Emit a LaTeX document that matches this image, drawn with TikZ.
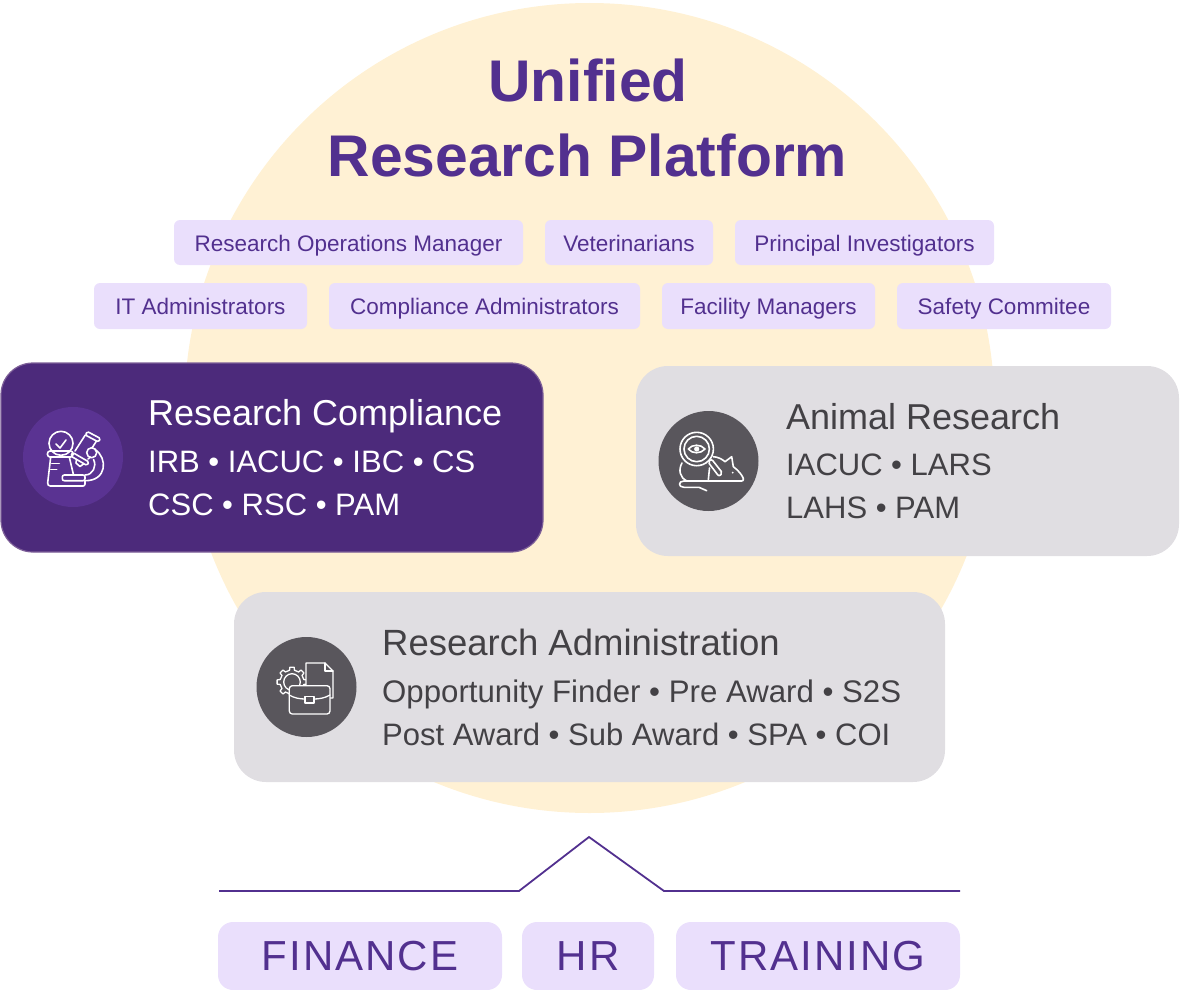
\documentclass[tikz,border=0pt]{standalone}
\usepackage{fontspec}
\setmainfont{Liberation Sans}
\definecolor{sun}{HTML}{FFF1D4}
\definecolor{plum}{HTML}{52308F}
\definecolor{tagbg}{HTML}{EADFFC}
\definecolor{cardpurple}{HTML}{4C2A7B}
\definecolor{cardedge}{HTML}{7D5F98}
\definecolor{iconpurple}{HTML}{5A3392}
\definecolor{cardgrey}{HTML}{E0DEE2}
\definecolor{icongrey}{HTML}{59565C}
\definecolor{inkgrey}{HTML}{434145}
\tikzset{
  x=1pt,y=-1pt,
  tagbox/.style={fill=tagbg,rounded corners=6pt,text=plum,inner sep=0pt,text height=19pt,text depth=2pt,font=\fontsize{22.5}{26}\selectfont},
  basebox/.style={fill=tagbg,rounded corners=15pt,text=plum,inner sep=0pt,text height=28pt,text depth=0pt,font=\addfontfeature{LetterSpace=5}\fontsize{42}{46}\selectfont},
  card/.style={rounded corners=32pt,inner sep=0pt},
  cardtitle/.style={anchor=base west,inner sep=0pt,font=\fontsize{36}{40}\selectfont},
  cardline/.style={anchor=base west,inner sep=0pt,font=\fontsize{31}{36}\selectfont},
  ic/.style={draw=white,line width=1.6pt,line cap=round,line join=round},
  iconring/.style={circle,inner sep=0pt,minimum size=100pt},
}
\begin{document}
\begin{tikzpicture}
\useasboundingbox (0,0) rectangle (1180,990);
\fill[sun] (589.5,408) circle[radius=405];

\node[font=\bfseries\fontsize{58.8}{75}\selectfont,text=plum,inner sep=0pt,anchor=base] (title) at (588,101) {Unified};
\node[font=\bfseries\fontsize{58.8}{75}\selectfont,text=plum,inner sep=0pt,anchor=base] (title2) at (587.5,176) {Research Platform};

\node[tagbox,minimum width=349pt,minimum height=45pt] (t1) at (348.5,242.5) {Research Operations Manager};
\node[tagbox,minimum width=168pt,minimum height=45pt] (t2) at (629,242.5) {Veterinarians};
\node[tagbox,minimum width=259pt,minimum height=45pt] (t3) at (864.5,242.5) {Principal Investigators};
\node[tagbox,minimum width=213pt,minimum height=46pt] (t4) at (200.5,306) {IT Administrators};
\node[tagbox,minimum width=311pt,minimum height=46pt] (t5) at (484.5,306) {Compliance Administrators};
\node[tagbox,minimum width=213pt,minimum height=46pt] (t6) at (768.5,306) {Facility Managers};
\node[tagbox,minimum width=214pt,minimum height=46pt] (t7) at (1004,306) {Safety Commitee};

% Research Compliance
\node[card,fill=cardpurple,draw=cardedge,line width=1.2pt,minimum width=542pt,minimum height=189pt] (rc) at (272,457.5) {};
\node[iconring,fill=iconpurple] (rci) at (73,457) {};
\node[cardtitle,text=white] (rct) at (148,425) {Research Compliance};
\node[cardline,text=white] (rc1) at (148,472) {IRB • IACUC • IBC • CS};
\node[cardline,text=white] (rc2) at (148,515) {CSC • RSC • PAM};
\draw[ic] (61,443.3) circle[radius=12];
\draw[ic] (56,444) -- (60,448) -- (66,440);
\draw[ic,rounded corners=2.5pt] (47.5,451) -- (73,451) -- (73,457) -- (47.5,457) -- cycle;
\draw[ic,rounded corners=3pt] (50.7,457) -- (47.3,486) -- (62,486);
\draw[ic] (69.3,457) -- (73.3,474);
\draw[ic] (51.7,463.3) -- (59.3,463.3) (50.7,469.3) -- (56.7,469.3);
\draw[ic,rounded corners=1.5pt] (87.3,431.5) -- (100.5,438.5) -- (98.5,442) -- (85.3,435) -- cycle;
\draw[ic] (85.3,435) -- (75,451) (96.5,441) -- (92,448);
\draw[ic] (88,459) -- (90,457.5);
\draw[ic,rounded corners=1.5pt] (72.7,452.5) -- (89,462) -- (87,465.5) -- (70.7,456) -- cycle;
\draw[ic] (76.5,459.5) -- (76,463) -- (80,466.5) -- (83.5,464);
\draw[ic] (91.7,452.7) circle[radius=5];
\draw[ic] (95,449.5) .. controls (108,458) and (107,481) .. (85,480.7);
\draw[ic] (93.5,459.5) .. controls (97,466) and (93,475) .. (85,475);
\draw[ic,rounded corners=2pt] (62.3,475) -- (85,475) -- (85,480.7) -- (62.3,480.7) -- cycle;
\draw[ic,rounded corners=2pt] (62,486) -- (85,486) -- (85,480.7);

% Animal Research
\node[card,fill=cardgrey,minimum width=543pt,minimum height=190pt] (ar) at (907.5,461) {};
\node[iconring,fill=icongrey] (ari) at (708.5,461) {};
\node[cardtitle,text=inkgrey] (art) at (786,429) {Animal Research};
\node[cardline,text=inkgrey] (ar1) at (786,475) {IACUC • LARS};
\node[cardline,text=inkgrey] (ar2) at (786,518) {LAHS • PAM};
\draw[ic] (696.7,449) circle[radius=16.7];
\draw[ic] (696.7,449) circle[radius=12.7];
\draw[ic] (688.3,449) .. controls (692,444) and (701,444) .. (705,449) .. controls (701,454) and (692,454) .. (688.3,449) -- cycle;
\fill[white] (696.7,449) circle[radius=2.6];
\draw[ic,rounded corners=2pt] (708,462) -- (711.5,459) -- (722.5,473) -- (719,476.5) -- cycle;
\draw[ic] (682,463) .. controls (678,470) and (680,478) .. (687,481);
\draw[ic] (713.3,456.7) .. controls (718,457) and (722,459) .. (725,461.7) -- (731.7,456.7) -- (733.3,466.7) .. controls (738,470) and (742,475) .. (743.3,478.3) .. controls (743.8,480) and (743,481) .. (741.7,481) -- (684,481) .. controls (678,481) and (678,487.3) .. (684,487.3) -- (699,487.3) -- (706.7,490.7);
\draw[ic] (709.5,468) -- (708.3,480);
\fill[white] (732.7,472.7) circle[radius=1];

% Research Administration
\node[card,fill=cardgrey,minimum width=711pt,minimum height=190pt] (ra) at (589.5,687) {};
\node[iconring,fill=icongrey] (rai) at (306.5,687) {};
\node[cardtitle,text=inkgrey,font=\fontsize{36.5}{40}\selectfont] (rat) at (382,655) {Research Administration};
\node[cardline,text=inkgrey,font=\fontsize{31.2}{36}\selectfont] (ra1) at (382,702) {Opportunity Finder • Pre Award • S2S};
\node[cardline,text=inkgrey] (ra2) at (382,745) {Post Award • Sub Award • SPA • COI};
\begin{scope}[shift={(292,682)}]
\foreach \a in {0,45,...,315}
  \draw[ic,line width=1.3pt] (\a-12:12) -- (\a-8:15) -- (\a+8:15) -- (\a+12:12) -- (\a+33:12);
\draw[ic,line width=1.3pt] (0,0) circle[radius=8.3];
\end{scope}
\draw[ic,line width=1.3pt,fill=icongrey] (306,674) -- (306,663) -- (325,663) -- (333,671) -- (333,698) -- (320,698) -- (306,686) -- cycle;
\draw[ic,line width=1.3pt] (325,663) -- (325,671) -- (333,671);
\draw[ic,line width=1.3pt,fill=icongrey,rounded corners=3pt] (289.3,685.7) rectangle (330,714);
\draw[ic,line width=1.3pt] (289.3,695) .. controls (294,698) and (300,699) .. (305,699);
\draw[ic,line width=1.3pt] (330,695) .. controls (325,698) and (319,699) .. (314,699);
\draw[ic,line width=1.3pt] (305,696.5) rectangle (314,703);

% Base
\node[basebox,minimum width=284pt,minimum height=68pt] (fin) at (360,956) {FINANCE};
\node[basebox,minimum width=132pt,minimum height=68pt] (hr) at (588,956) {HR};
\node[basebox,minimum width=284pt,minimum height=68pt] (tr) at (818,956) {TRAINING};
\coordinate (la) at (219,891);
\coordinate (lb) at (519,891);
\coordinate (lc) at (589,837);
\coordinate (ld) at (664,891);
\coordinate (le) at (960,891);
\draw[plum,line width=1.8pt] (la) -- (lb) -- (lc) -- (ld) -- (le);
\end{tikzpicture}
\end{document}
